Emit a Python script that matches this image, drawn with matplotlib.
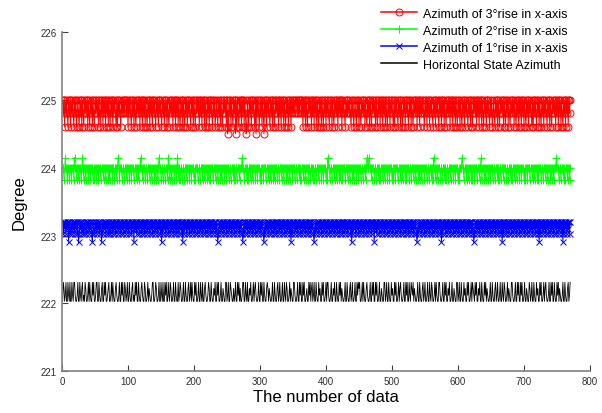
import numpy as np
import matplotlib.pyplot as plt

# sample values, one digit per sample, index into the level list of each series
red_levels = [224.5, 224.6, 224.8, 225.0]
red_codes = """
3231323213 2313232132 3123213231 3213232313 2132313213 2323132132 3132313231
3213231323 2131323213 2323233231 3232132313 2132323132 3132313213 2313231323
2132313232 1323132313 2132323132 3132313213 2313213231 3232132313 2132323132
3132313213 2313232132 3123213231 3213232313 0132313213 2303132132 3132313201
3213231323 2130323213 2313203231 3232132313 2132323132 3132313213 2313231323
2323323232 3323132313 2132323132 3132313213 2313213231 3232132313 2132323132
3231323213 2323232132 3123213231 3213232313 2132313213 2323132132 3132313231
3213231323 2131323213 2313213231 3232132313 2132323132 3132323213 2313231323
2132313232 1323132313 2132323132 3132313213 2313213231 3232132313 2132323132
3132313213 2313232132 3123213231 3213232313 2132313213 2323132132 3132313231
3213231323 2131323213 2313213231 3232132313 2132323132 3132313213 2313231323
"""

green_levels = [223.82, 224.0, 224.15]
green_codes = """
1101211011 0110111021 1011011101 2101101110 1101110101 1011011101 1101101110
1011101101 1101210111 0110111011 1011011101 1101101121 1011101101 1101101110
1011012110 1101101110 2101101110 1101210101 1011011101 1101101110 1011101101
1101101110 1011011101 1101101110 1011101101 1101101110 1011011101 1121101110
1011101101 1101101110 1011011101 1101101110 1011101101 1101101110 1011011101
1101101110 1011101101 1101101110 1011011101 1101101110 1021101101 1101101110
1011011101 1101101110 1011101101 1101101110 1211211101 1101101110 1011101101
1101101110 1011011101 1101101110 1011101101 1101101110 1011011101 1101101110
1021101101 1101101110 1011011101 1101101110 1011121101 1101101110 1011011101
1101201110 1011101101 1101101110 1011011101 1101101110 1011101101 1101101110
1011011101 1101101110 1011101101 1101101110 1011011121 1101101110 1011101101
"""

blue_levels = [222.9, 223.02, 223.1, 223.2]
blue_codes = """
3132313230 3123132313 2313013231 3213231323 1323103213 2313231320 3132313231
3213231323 1323132313 2313231323 1323132303 2313231323 1323132313 2313231323
1323132313 0313231323 1323132313 2313231323 1303132313 2313231323 1323132313
2313231323 1323132313 2313201323 1323132313 2313231323 1323132313 2310231323
1323132313 2313231323 1323102313 2313231323 1323132313 2313231323 1323130313
2313231323 1323132313 2313231323 1023132313 2313231323 1323132313 2313231323
1323132313 2313231303 1323132313 2313231323 1323132313 2303231323 1323132313
2313231323 1323132313 2313231323 1323132313 2313231023 1323132313 2313231323
1323132313 2313031323 1323132313 2313231323 1323132313 2313231323 1320132313
2313231323 1323132313 2313231323 1323130313 2313231323 1323132313 2313231323
1323132313 2313231323 1303132313 2313231323 1323132313 2313231303 1323132313
"""

black_levels = [222.03, 222.12, 222.22, 222.31]
black_codes = """
0320130031 0300310331 0013003102 3010320013 0310031300 1330031002 3003130012
3001303100 2310013003 1300320130 0310023010 3130031002 3100320013 0210013300
1320013003 1030031300 3103200130 0310030132 0013003100 2301303100 3130013003
1030023100 1320031002 1300313001 3002100330 1300321002 0130031302 0013300310
3002130013 0231001300 3130031002 3202100130 0310023013 0013003103 2001302100
3310013003 1300313001 2003130230 1300310031 2003130013 0331001300 2130031003
1302100130 0310023013 0013003132 3001303100 2310013003 1300313001 3002100330
1300310031 2003130013 0231001300 3130031032 1302100130 0310023013 0013003103
2001303100 3310013003 1300213001 3002100330 1300310031 2003130013 0321031300
2130031003 1302100130 0310023013 0013003103 2001302100 3310013003 1300313001
3002100320 1300310031 2003130013 0231001300 3130031003 1302100130 0310023013
"""


def decode(codes, levels):
    digits = "".join(codes.split())
    return np.array([levels[int(c)] for c in digits])


red = decode(red_codes, red_levels)
green = decode(green_codes, green_levels)
blue = decode(blue_codes, blue_levels)
black = decode(black_codes, black_levels)

plt.rcParams['font.family'] = ['Liberation Sans', 'DejaVu Sans']

fig = plt.figure(figsize=(6.02, 4.14), dpi=100)
ax = fig.add_axes([0.103, 0.101, 0.877, 0.819])

ax.plot(np.arange(1, len(red) + 1), red, color='#ff0000', lw=0.7,
        marker='o', ms=5, mfc='none', mew=0.7, label='Azimuth of 3°rise in x-axis')
ax.plot(np.arange(1, len(green) + 1), green, color='#00ff00', lw=0.7,
        marker='+', ms=6, mew=0.7, label='Azimuth of 2°rise in x-axis')
ax.plot(np.arange(1, len(blue) + 1), blue, color='#0000ff', lw=0.7,
        marker='x', ms=4, mew=0.7, label='Azimuth of 1°rise in x-axis')
ax.plot(np.arange(1, len(black) + 1), black, color='black', lw=0.6,
        label='Horizontal State Azimuth')

ax.set_xlim(0, 800)
ax.set_ylim(221, 226)
ax.set_xticks(np.arange(0, 801, 100))
ax.set_yticks(np.arange(221, 227, 1))

for side in ['top', 'right']:
    ax.spines[side].set_visible(False)
for side in ['left', 'bottom']:
    ax.spines[side].set_color('#808080')
    ax.spines[side].set_linewidth(1.2)
ax.tick_params(direction='in', length=4, color='#404040', labelsize=7, labelcolor='#303030')

ax.set_xlabel('The number of data', fontsize=12, labelpad=2)
ax.set_ylabel('Degree', fontsize=12, labelpad=10)

leg = fig.legend(loc='upper left', bbox_to_anchor=(0.618, 1.0), frameon=False,
                 fontsize=9, handlelength=2.9, handletextpad=0.5, labelspacing=0.4,
                 borderaxespad=0.3)
for h in leg.get_lines():
    h.set_linewidth(1.1)

fig.savefig('out.png', dpi=100)
